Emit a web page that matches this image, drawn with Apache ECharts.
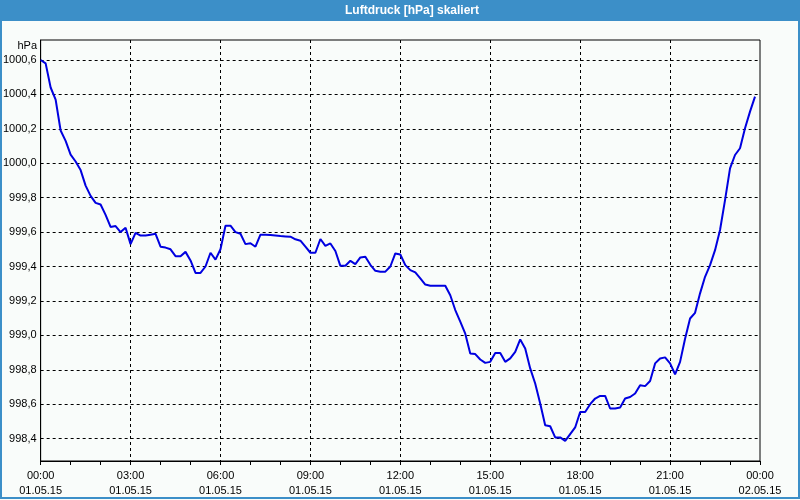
<!DOCTYPE html>
<html>
<head>
<meta charset="utf-8">
<script src="https://cdn.jsdelivr.net/npm/echarts@6/dist/echarts.min.js"></script>
<style>
html,body{margin:0;padding:0;background:#f9fcfa;}
#chart{width:800px;height:500px;}
</style>
</head>
<body>
<div id="chart"></div>
<script>
// Pressure samples every 10 minutes, 01.05.15 00:00 .. 23:50
var pressure = [
  1000.600,1000.580,1000.440,1000.370,1000.190,1000.130,
  1000.050,1000.010,999.960,999.870,999.810,999.770,
  999.760,999.700,999.630,999.635,999.600,999.625,
  999.530,999.595,999.580,999.580,999.585,999.590,
  999.515,999.510,999.500,999.460,999.460,999.485,
  999.435,999.363,999.363,999.400,999.480,999.440,
  999.500,999.637,999.637,999.600,999.590,999.530,
  999.535,999.515,999.585,999.585,999.583,999.580,
  999.577,999.575,999.573,999.558,999.550,999.515,
  999.480,999.480,999.560,999.520,999.534,999.490,
  999.404,999.404,999.433,999.414,999.453,999.457,
  999.410,999.375,999.370,999.370,999.400,999.476,
  999.470,999.408,999.379,999.366,999.331,999.295,
  999.288,999.288,999.288,999.288,999.233,999.147,
  999.080,999.010,998.895,998.891,998.860,998.840,
  998.846,998.898,998.898,998.846,998.866,998.904,
  998.976,998.924,998.808,998.720,998.604,998.478,
  998.472,998.407,998.407,998.387,998.426,998.465,
  998.555,998.555,998.600,998.633,998.648,998.648,
  998.575,998.575,998.581,998.633,998.642,998.662,
  998.710,998.705,998.735,998.837,998.866,998.872,
  998.837,998.774,998.846,998.980,999.098,999.131,
  999.244,999.340,999.408,999.495,999.612,999.786,
  999.970,1000.048,1000.087,1000.203,1000.300,1000.387
];
var sampleMinutes = 10;
var xTickHours = [0, 3, 6, 9, 12, 15, 18, 21, 24];
var xTickLabels = ["00:00\n01.05.15","03:00\n01.05.15","06:00\n01.05.15","09:00\n01.05.15",
  "12:00\n01.05.15","15:00\n01.05.15","18:00\n01.05.15","21:00\n01.05.15","00:00\n02.05.15"];
var yTicks = [998.4, 998.6, 998.8, 999.0, 999.2, 999.4, 999.6, 999.8, 1000.0, 1000.2, 1000.4, 1000.6];
var yMin = 998.27, yMax = 1000.716;

var seriesData = pressure.map(function (v, i) { return [i * sampleMinutes / 60, v]; });

var FONT = 'Liberation Sans';
var chart = echarts.init(document.getElementById('chart'), null, {renderer: 'canvas'});
chart.setOption({
  animation: false,
  backgroundColor: '#f9fcfa',
  textStyle: {fontFamily: FONT},
  graphic: [
    {type: 'rect', z: 0, shape: {x: 0, y: 0, width: 800, height: 21}, style: {fill: '#3c8fc8'}},
    {type: 'rect', z: 0, shape: {x: 1, y: 0, width: 798, height: 498}, style: {fill: 'none', stroke: '#3c8fc8', lineWidth: 2}},
    {type: 'text', z: 10, x: 412, y: 11, style: {text: 'Luftdruck [hPa] skaliert', fill: '#ffffff',
      font: 'bold 12px "Liberation Sans"', textAlign: 'center', textVerticalAlign: 'middle'}},
    {type: 'text', z: 10, x: 37, y: 46, style: {text: 'hPa', fill: '#000000',
      font: '11px "Liberation Sans"', textAlign: 'right', textVerticalAlign: 'middle'}}
  ],
  grid: {left: 40, right: 40, top: 40, bottom: 39, show: true, borderColor: '#000', borderWidth: 1,
    backgroundColor: '#f9fcfa', containLabel: false},
  xAxis: {
    type: 'value', min: 0, max: 24, interval: 3,
    axisLine: {show: true, lineStyle: {color: '#000', width: 1}},
    axisTick: {show: true, length: 4, lineStyle: {color: '#000'}},
    minorTick: {show: true, splitNumber: 3, length: 4, lineStyle: {color: '#000'}},
    axisLabel: {color: '#000', fontSize: 11, fontFamily: FONT, lineHeight: 15, margin: 7,
      formatter: function (v) { var k = xTickHours.indexOf(v); return k >= 0 ? xTickLabels[k] : ''; }},
    splitLine: {show: true, showMinLine: false, showMaxLine: false, lineStyle: {color: '#000', type: [3, 3], width: 1}}
  },
  yAxis: {
    type: 'value', min: yMin, max: yMax,
    axisLine: {show: true, lineStyle: {color: '#000', width: 1}},
    axisTick: {show: false, customValues: yTicks},
    axisLabel: {color: '#000', fontSize: 11, fontFamily: FONT, margin: 4, customValues: yTicks,
      formatter: function (v) { return v.toFixed(1).replace('.', ','); }},
    splitLine: {show: true, lineStyle: {color: '#000', type: [3, 3], width: 1}}
  },
  series: [{
    type: 'line', data: seriesData, showSymbol: false, symbol: 'none',
    lineStyle: {color: '#0000e0', width: 2}, z: 5
  }]
});
</script>
</body>
</html>
